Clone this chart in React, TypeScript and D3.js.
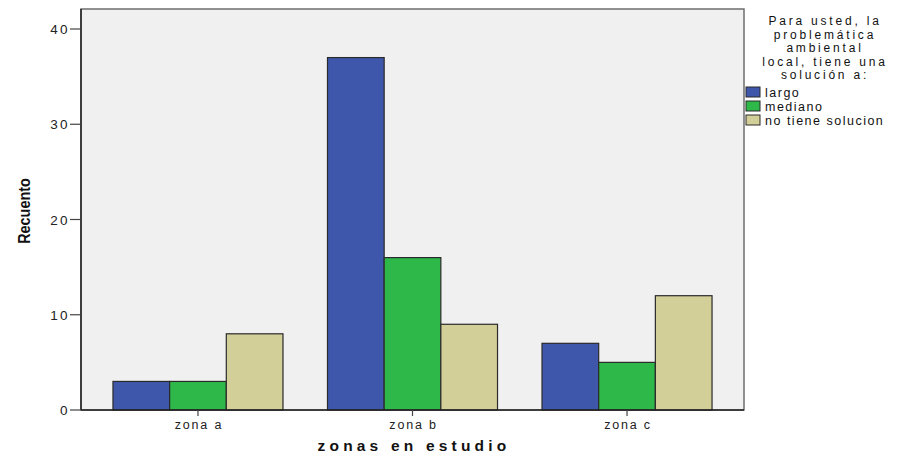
import React from "react";
import * as d3 from "d3";

const categories = ["zona a", "zona b", "zona c"];
const seriesNames = ["largo", "mediano", "no tiene solucion"];
const largo = [3, 37, 7];
const mediano = [3, 16, 5];
const noTiene = [8, 9, 12];
const yTicks = [0, 10, 20, 30, 40];
const legendTitle = ["Para usted, la", "problemática", "ambiental", "local, tiene una", "solución a:"];
const colors = ["#3e57ab", "#2fb84a", "#d3cf99"];

export default function App() {
  const W = 903, H = 457;
  const left = 81, right = 744, top = 9, bottom = 410;
  const series = [largo, mediano, noTiene];
  const x = d3.scaleBand<string>().domain(categories).range([left, right]).paddingInner(0.2075).paddingOuter(0.149);
  const x1 = d3.scaleBand<number>().domain([0, 1, 2]).range([0, x.bandwidth()]);
  const y = d3.scaleLinear().domain([0, 42.1]).range([bottom, top]);
  const font = "Liberation Sans, Arial, sans-serif";
  return (
    <svg width={W} height={H} style={{ position: "absolute", left: 0, top: 0 }} fontFamily={font}>
      <rect x={0} y={0} width={W} height={H} fill="#fff" />
      <rect x={left} y={top} width={right - left} height={bottom - top} fill="#f0f0f0" stroke="#6e6e6e" strokeWidth={1.5} />
      {categories.map((c, ci) =>
        series.map((s, si) => (
          <rect key={c + si}
            x={(x(c) as number) + (x1(si) as number)}
            y={y(s[ci])}
            width={x1.bandwidth()}
            height={bottom - y(s[ci])}
            fill={colors[si]} stroke="#2a2a2a" strokeWidth={1.2} />
        ))
      )}
      <line x1={left} x2={left} y1={top} y2={bottom} stroke="#222" strokeWidth={1.5} />
      <line x1={left} x2={right} y1={bottom} y2={bottom} stroke="#222" strokeWidth={1.5} />
      {yTicks.map(t => (
        <g key={t}>
          <line x1={left - 11} x2={left} y1={y(t)} y2={y(t)} stroke="#444" strokeWidth={1.2} />
          <text x={left - 11} y={y(t) + 5} textAnchor="end" fontSize={13.5} fill="#222" letterSpacing={2.4}>{t}</text>
        </g>
      ))}
      {categories.map(c => {
        const cx = (x(c) as number) + x.bandwidth() / 2;
        return (
          <g key={c}>
            <line x1={cx} x2={cx} y1={bottom} y2={bottom + 6} stroke="#444" strokeWidth={1.2} />
            <text x={cx + 1} y={bottom + 19} textAnchor="middle" fontSize={12.5} fill="#222" letterSpacing={1.8}>{c}</text>
          </g>
        );
      })}
      <text x={414} y={451} textAnchor="middle" fontSize={15.5} fontWeight="bold" fill="#111" letterSpacing={4.2}>zonas en estudio</text>
      <text transform="translate(30,211) rotate(-90) scale(0.9,1)" textAnchor="middle" fontSize={16} fontWeight="bold" fill="#111">Recuento</text>
      {legendTitle.map((l, i) => (
        <text key={l} x={825} y={25 + i * 13.6} textAnchor="middle" fontSize={12} fill="#111" letterSpacing={2.8}>{l}</text>
      ))}
      {seriesNames.map((n, i) => (
        <g key={n}>
          <rect x={746} y={87 + i * 14} width={14} height={10} fill={colors[i]} stroke="#2a2a2a" strokeWidth={1} />
          <text x={765} y={97 + i * 14} fontSize={12.5} fill="#111" letterSpacing={1.5}>{n}</text>
        </g>
      ))}
    </svg>
  );
}
